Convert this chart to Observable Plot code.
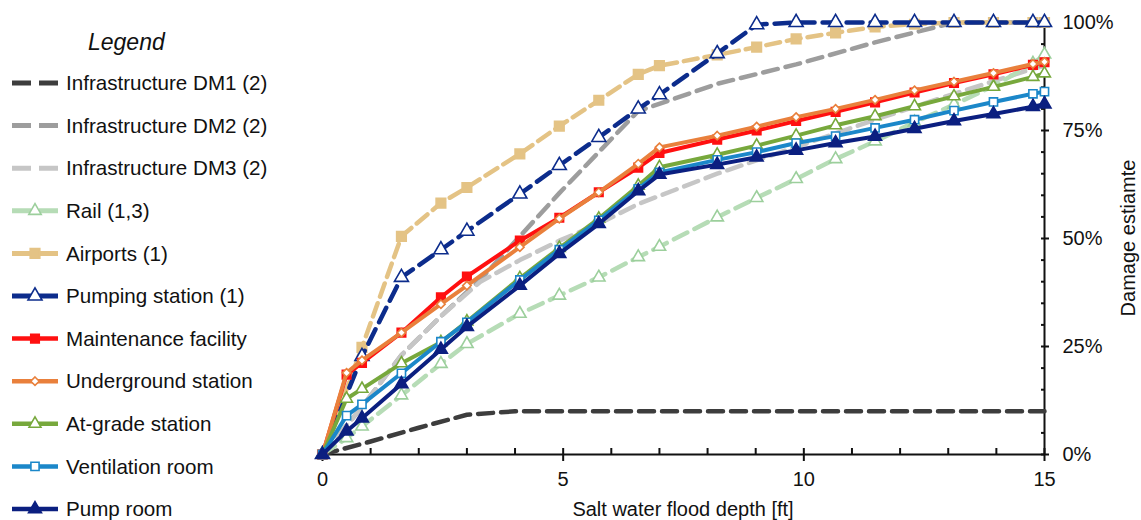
<!DOCTYPE html>
<html><head><meta charset="utf-8">
<script src="https://cdn.jsdelivr.net/npm/d3@7"></script>
<script src="https://cdn.jsdelivr.net/npm/@observablehq/plot@0.6"></script>
<style>
body{margin:0;background:#fff;font-family:"Liberation Sans",Arial,sans-serif;}
#wrap{position:relative;width:1141px;height:520px;overflow:hidden;background:#fff;}
#chart{position:absolute;left:0;top:0;}
#legend{position:absolute;left:0;top:0;}
</style></head><body>
<div id="wrap"><div id="chart"></div><div id="legend"></div></div>
<script>
// ---- data (flood depth in ft, damage in %) ----
const depthDM1 = [0, 1, 2, 3, 4, 15];
const damageDM1 = [0, 3, 6.2, 9.2, 10, 10];
const depthDM2 = [0, 0.82, 1.64, 2.46, 3.28, 4.1, 4.92, 5.74, 6.56, 8.2, 9.84, 11.48, 13.12, 15];
const damageDM2 = [0, 11, 23, 32, 40.5, 50.5, 60.5, 70, 79.5, 85.8, 90.3, 95.4, 100, 100];
const depthDM3 = [0, 0.82, 1.64, 2.46, 3.28, 4.1, 4.92, 5.74, 6.56, 8.2, 9.84, 11.48, 13.12, 14.76, 15];
const damageDM3 = [0, 11, 23, 32, 40, 45, 49.5, 53.4, 58, 65, 71.2, 77.5, 83.5, 89.3, 90];
const depthFull = [0, 0.5, 0.82, 1.64, 2.46, 3.0, 4.1, 4.92, 5.74, 6.56, 7.0, 8.2, 9.02, 9.84, 10.66, 11.48, 12.3, 13.12, 13.94, 14.76, 15];
const damageRail = [0, 3.8, 6.5, 13.7, 21.0, 25.6, 32.6, 36.8, 41.0, 45.7, 48.1, 54.9, 59.4, 63.8, 68.4, 72.5, 76.9, 81.0, 85.3, 90.5, 92.6];
const depthSparse = [0, 0.82, 1.64, 2.46, 3.0, 4.1, 4.92, 5.74, 6.56, 7.0, 8.2, 9.02, 9.84, 10.66, 11.48, 12.3, 13.12, 13.94, 14.76, 15];
const damageAirports = [0, 24.8, 50.5, 58.2, 61.8, 69.6, 76.0, 82.0, 88.0, 90.0, 92.5, 94.3, 96.2, 97.6, 99.0, 99.6, 100, 100, 100, 100];
const damagePumping = [0, 22.7, 41.0, 47.4, 51.7, 60.3, 66.9, 73.4, 80.0, 83.3, 92.8, 99.5, 100, 100, 100, 100, 100, 100, 100, 100];
const damageMaintenance = [0, 18.5, 21.2, 28.2, 36.4, 41.2, 49.5, 54.8, 60.7, 66.4, 69.8, 72.9, 75.0, 77.2, 79.3, 81.5, 83.8, 86.0, 88.0, 90.2, 90.8];
const damageUnderground = [0, 18.9, 21.8, 28.2, 34.8, 39.1, 48.0, 54.6, 60.7, 67.3, 71.1, 73.8, 75.9, 78.1, 80.0, 82.1, 84.3, 86.3, 88.3, 90.4, 90.9];
const damageAtGrade = [0, 12.9, 15.2, 21.1, 26.0, 30.8, 40.8, 47.8, 54.6, 62.2, 66.5, 69.4, 71.5, 73.8, 76.2, 78.3, 80.6, 82.9, 85.1, 87.4, 88.2];
const damageVentilation = [0, 9.0, 11.6, 18.8, 26.1, 30.6, 40.4, 47.4, 54.2, 61.5, 65.3, 68.2, 70.0, 72.1, 73.7, 75.6, 77.5, 79.6, 81.6, 83.5, 84.0];
const damagePumpRoom = [0, 5.4, 8.4, 16.3, 24.3, 29.6, 39.1, 46.5, 53.4, 61.0, 64.8, 67.1, 68.8, 70.4, 72.1, 73.6, 75.4, 77.2, 78.8, 80.5, 81.1];
const xTicks = [0, 5, 10, 15];
const yTicks = [0, 25, 50, 75, 100];

// ---- series styles ----
const series = [
  {name:"Infrastructure DM1 (2)", x:depthDM1, y:damageDM1, color:"#3d3d3d", dash:"15,8", w:4.5},
  {name:"Infrastructure DM2 (2)", x:depthDM2, y:damageDM2, color:"#9d9d9d", dash:"15,8", w:4.5},
  {name:"Infrastructure DM3 (2)", x:depthDM3, y:damageDM3, color:"#c6c6c6", dash:"15,8", w:4.5},
  {name:"Rail (1,3)", x:depthFull, y:damageRail, color:"#b6dcb6", dash:"15,8", w:4.5, symbol:"triangle", r:4.6, fill:"white", mstroke:"#9ccf9c"},
  {name:"Airports (1)", x:depthSparse, y:damageAirports, color:"#e4c385", dash:"14,7", w:4.5, symbol:"square", r:5.4, fill:"#e4c385", mstroke:"#e4c385"},
  {name:"Pumping station (1)", x:depthSparse, y:damagePumping, color:"#0c2c8c", dash:"16,8", w:4.5, symbol:"triangle", r:5.2, fill:"white", mstroke:"#0c2c8c"},
  {name:"Maintenance facility", x:depthFull, y:damageMaintenance, color:"#ff1010", dash:null, w:4, symbol:"square", r:4.8, fill:"#ff1010", mstroke:"#ff1010"},
  {name:"Underground station", x:depthFull, y:damageUnderground, color:"#e9803c", dash:null, w:4, symbol:"diamond2", r:3.8, fill:"white", mstroke:"#e9803c"},
  {name:"At-grade station", x:depthFull, y:damageAtGrade, color:"#77a83c", dash:null, w:4, symbol:"triangle", r:4.4, fill:"white", mstroke:"#77a83c"},
  {name:"Ventilation room", x:depthFull, y:damageVentilation, color:"#1b87c9", dash:null, w:4, symbol:"square", r:4.6, fill:"white", mstroke:"#1b87c9"},
  {name:"Pump room", x:depthFull, y:damagePumpRoom, color:"#0b1f80", dash:null, w:4, symbol:"triangle", r:4.8, fill:"#0b1f80", mstroke:"#0b1f80"}
];

const marks = [
  Plot.ruleY([0], {stroke:"#111", strokeWidth:2}),
  Plot.ruleX([15], {stroke:"#111", strokeWidth:2}),
  Plot.axisX({ticks: d3.range(0, 16), tickSize: -6, tickFormat: () => "", label: null, strokeWidth: 2, stroke:"#111"}),
  Plot.axisX({ticks: xTicks, tickSize: 7, tickPadding: 10, label: null, strokeWidth: 2, stroke:"#111", fill:"#111", fontSize: 20}),
  Plot.axisY({anchor:"right", ticks: d3.range(0, 101, 5), tickSize: -4, tickFormat: () => "", label: null, strokeWidth: 2, stroke:"#111"}),
  Plot.axisY({anchor:"right", ticks: yTicks, tickSize: 4, tickPadding: 14, tickFormat: d => d + "%", label: null, strokeWidth: 2, stroke:"#111", fill:"#111", fontSize: 20})
];
series.forEach(s => {
  const data = s.x.map((x, j) => ({x, y: s.y[j]}));
  marks.push(Plot.line(data, {x:"x", y:"y", stroke:s.color, strokeWidth:s.w, strokeDasharray:s.dash || undefined}));
  if (s.symbol) marks.push(Plot.dot(data, {x:"x", y:"y", symbol:s.symbol, r:s.r, fill:s.fill, stroke:s.mstroke, strokeWidth:1.6}));
});

const svg = Plot.plot({
  width: 1141, height: 520,
  marginLeft: 322, marginRight: 97, marginTop: 22, marginBottom: 66,
  x: {domain:[0, 15]},
  y: {domain:[0, 100]},
  style: {fontFamily:'"Liberation Sans", Arial, sans-serif', fontSize:"20px", color:"#111", background:"transparent", overflow:"visible"},
  marks
});
const s = d3.select(svg);
s.append("text").attr("x", 683).attr("y", 516).attr("text-anchor", "middle")
  .attr("fill", "#111").style("font-size", "20px").text("Salt water flood depth [ft]");
s.append("text").attr("transform", "translate(1135,238) rotate(-90)").attr("text-anchor", "middle")
  .attr("fill", "#111").style("font-size", "20px").text("Damage estiamte");
document.getElementById("chart").appendChild(svg);

// ---- legend ----
const lg = d3.select("#legend").append("svg").attr("width", 300).attr("height", 520)
  .style("font-family", '"Liberation Sans", Arial, sans-serif');
lg.append("text").attr("x", 88).attr("y", 50).style("font-style", "italic").style("font-size", "23px")
  .attr("fill", "#111").text("Legend");
series.forEach((sr, i) => {
  const cy = 83 + i * 42.6;
  const g = lg.append("g").attr("transform", `translate(0,${cy})`);
  g.append("line").attr("x1", 12).attr("x2", sr.dash ? 62 : 58).attr("y1", 0).attr("y2", 0)
    .attr("stroke", sr.color).attr("stroke-width", sr.w + 0.5)
    .attr("stroke-dasharray", sr.dash ? "19,8" : null);
  if (sr.symbol) {
    const type = {triangle: d3.symbolTriangle, square: d3.symbolSquare, diamond2: d3.symbolDiamond2}[sr.symbol];
    g.append("path").attr("transform", "translate(35,0)")
      .attr("d", d3.symbol(type, Math.PI * sr.r * sr.r)())
      .attr("fill", sr.fill).attr("stroke", sr.mstroke).attr("stroke-width", 1.6);
  }
  g.append("text").attr("x", 66).attr("y", 0).attr("dy", "0.35em").style("font-size", "20.6px")
    .attr("fill", "#111").text(sr.name);
});
</script>
</body></html>
